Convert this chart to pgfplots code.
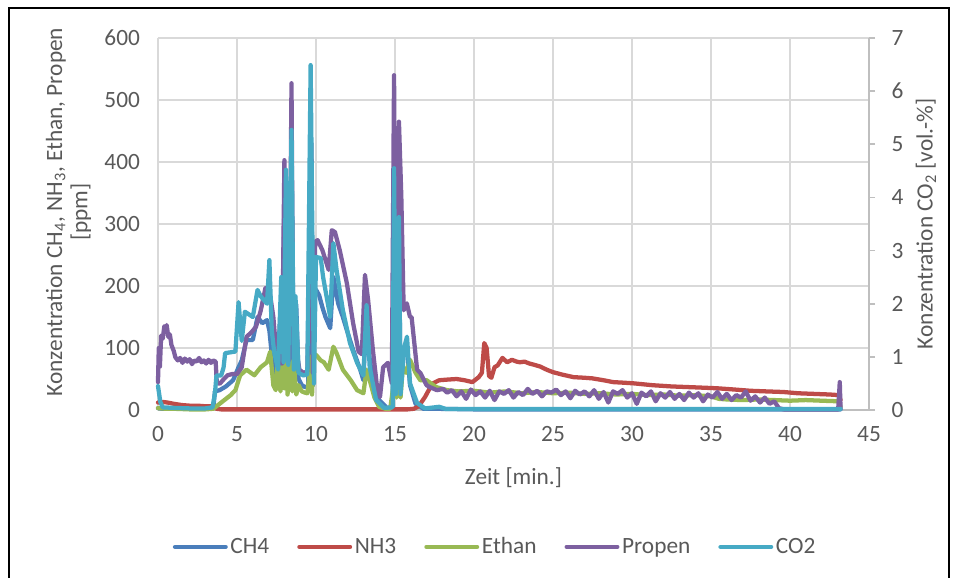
\documentclass[border=0pt]{standalone}
\usepackage{pgfplots}
\pgfplotsset{compat=1.18}
\usepackage{fontspec}
\setmainfont{Carlito}
\definecolor{cCH}{HTML}{4A7EBB}
\definecolor{cNH}{HTML}{BE4B48}
\definecolor{cET}{HTML}{98B954}
\definecolor{cPR}{HTML}{7D60A0}
\definecolor{cCO}{HTML}{46AAC5}
\definecolor{textc}{HTML}{595959}
\definecolor{gridc}{HTML}{D9D9D9}
\definecolor{axisc}{HTML}{BFBFBF}
\pgfplotsset{
  every axis/.append style={scale only axis, width=533.25pt, height=279pt,
    at={(0pt,0pt)}, anchor=south west, clip=false,
    font=\fontsize{17.5}{19}\selectfont,
    /pgf/number format/assume math mode=true,
    tick label style={color=textc},
    label style={color=textc}},
  ser/.style={line width=3.2pt, line join=round, line cap=round, #1},
}
\begin{document}
\begin{tikzpicture}[font=\fontsize{17.5}{19}\selectfont]
\path[use as bounding box] (-118.5pt,-126pt) rectangle (599.25pt,307.5pt);
\begin{axis}[
  xmin=0, xmax=45, ymin=0, ymax=600,
  xtick={0,5,...,45}, ytick={0,100,...,600},
  grid=major, major grid style={color=gridc, line width=1.3pt},
  axis x line*=bottom, axis y line*=left,
  x axis line style={color=axisc, line width=1.3pt, -},
  y axis line style={draw=none},
  major tick length=0pt,
  xticklabel style={yshift=-9pt},
  yticklabel style={xshift=-10pt},
  xlabel={Zeit [min.]},
  xlabel style={at={(axis description cs:0.5,-0.183)}, anchor=center},
  ylabel={Konzentration CH\textsubscript{4}, NH\textsubscript{3}, Ethan, Propen\\{[ppm]}},
  ylabel style={at={(axis description cs:-0.1259,0.532)}, anchor=center, align=center},
  legend style={at={(axis description cs:0.4747,-0.368)}, anchor=center, draw=none, fill=none,
    legend columns=-1, text=textc, font=\fontsize{17.5}{19}\selectfont,
    /tikz/every even column/.append style={column sep=19pt}},
  legend image code/.code={\draw[#1] (0pt,0pt) -- (38pt,0pt);},
]
% CH4
\addplot[ser=cCH] coordinates {(0,3) (0.3,2) (1,2) (2,2) (3,2) (3.5,3) (3.6,30) (3.9,32) (4.3,38) (4.75,48) (5.1,69) (5.3,80) (5.6,113) (6.0,113) (6.3,150) (6.6,140) (6.9,145) (7.05,128) (7.2,90) (7.4,60) (7.6,55) (7.75,150) (7.85,60) (8.0,340) (8.15,70) (8.3,60) (8.45,400) (8.6,60) (8.75,170) (8.9,50) (9.1,40) (9.3,37) (9.5,38) (9.6,200) (9.7,430) (9.8,40) (9.9,190) (10.0,194) (10.2,185) (10.4,166) (10.6,150) (10.9,132) (11.1,215) (11.4,172) (11.7,150) (11.95,129) (12.35,97) (12.8,65) (13.0,48) (13.15,140) (13.3,100) (13.5,65) (13.8,30) (14.0,16) (14.5,3) (14.85,5) (14.95,350) (15.05,30) (15.25,280) (15.35,40) (15.5,90) (15.75,105) (15.95,40) (16.3,10) (16.8,2) (17.5,2) (20,1) (25,1) (30,1) (35,1) (40,1) (43.2,1)};
\addlegendentry{CH4}
% NH3
\addplot[ser=cNH] coordinates {(0,12) (0.3,13) (0.6,12) (1,10) (1.5,8) (2,7) (2.5,7) (3,6) (3.5,6) (3.7,2) (4,1) (6,1) (8,1) (10,1) (12,1) (14,1) (15.8,1) (16.2,2) (16.5,6) (16.9,21) (17.2,35) (17.4,43) (17.8,48) (18.3,49) (18.9,50) (19.4,48) (19.9,45) (20.3,53) (20.5,60) (20.65,108) (20.8,100) (20.95,55) (21.1,52) (21.3,69) (21.5,72) (21.8,84) (22.1,77) (22.4,81) (22.7,78) (22.9,77) (23.2,78) (23.5,75) (23.8,73) (24.2,70) (24.6,65) (25.0,61) (25.6,57) (26.3,53) (27.0,52) (27.5,51) (28.2,48) (28.8,45) (29.5,44) (30.1,43) (31.3,40) (32.5,38) (33.5,37) (34.5,36) (35.4,35) (36.5,33) (37.5,31) (38.5,30) (39.6,29) (40.5,27) (41.5,26) (42.5,25) (43.1,24) (43.2,16)};
\addlegendentry{NH3}
% Ethan
\addplot[ser=cET] coordinates {(0,3) (0.5,2) (1,2) (2,1) (3,1) (3.5,2) (3.8,8) (4.2,16) (4.6,24) (4.9,32) (5.2,56) (5.6,65) (6.1,56) (6.5,69) (6.9,77) (7.1,94) (7.3,40) (7.45,32) (7.6,85) (7.75,30) (7.9,90) (8.0,35) (8.1,85) (8.2,25) (8.35,80) (8.5,30) (8.6,75) (8.75,25) (8.9,40) (9.1,30) (9.3,28) (9.45,27) (9.6,60) (9.65,86) (9.75,25) (9.85,89) (10.0,89) (10.3,80) (10.5,77) (10.8,65) (11.1,102) (11.3,92) (11.7,65) (12.2,48) (12.6,32) (13.0,27) (13.2,65) (13.4,48) (13.7,20) (14.0,5) (14.4,2) (14.7,2) (14.9,40) (15.0,80) (15.1,20) (15.25,60) (15.35,20) (15.5,70) (15.7,60) (15.95,81) (16.3,60) (16.6,48) (17.0,48) (17.6,37) (18.3,32) (19,30) (20,31) (21,28) (22,30) (23,27) (24,29) (25,27) (26,28) (27,26) (28,27) (29,25) (30,26) (31,24) (32,25) (33,23) (34,24) (35,22) (35.5,18) (36,17) (37,16) (38,17) (39,16) (40,15) (41,16) (42,15) (43.1,14) (43.2,5)};
\addlegendentry{Ethan}
% Propen
\addplot[ser=cPR] coordinates {(0,45) (0.05,100) (0.12,70) (0.2,120) (0.3,115) (0.4,135) (0.5,130) (0.55,137) (0.65,118) (0.75,122) (0.85,105) (1.0,95) (1.1,85) (1.25,80) (1.4,84) (1.55,76) (1.7,83) (1.85,78) (2.0,82) (2.15,74) (2.3,80) (2.45,78) (2.6,84) (2.75,77) (2.9,80) (3.05,75) (3.2,81) (3.35,76) (3.5,80) (3.65,78) (3.72,45) (3.9,42) (4.1,48) (4.4,56) (4.7,58) (5.0,58) (5.3,69) (5.6,118) (5.9,125) (6.2,134) (6.5,160) (6.8,197) (7.0,190) (7.1,185) (7.3,150) (7.5,90) (7.6,70) (7.75,160) (7.85,75) (8.0,403) (8.15,90) (8.3,80) (8.45,527) (8.55,120) (8.67,182) (8.8,90) (8.95,65) (9.2,60) (9.45,62) (9.6,250) (9.7,430) (9.8,60) (9.95,271) (10.1,274) (10.4,258) (10.8,226) (11.0,290) (11.2,287) (11.5,258) (11.95,205) (12.35,140) (12.7,94) (12.9,90) (13.1,218) (13.3,177) (13.6,97) (13.85,40) (14.05,21) (14.25,69) (14.55,76) (14.8,43) (14.94,540) (15.05,69) (15.15,300) (15.25,465) (15.4,344) (15.55,161) (15.75,172) (15.95,150) (16.05,150) (16.4,65) (16.6,60) (17.0,40) (17.2,37) (17.65,32) (18.05,34) (18.3,28) (18.6,32) (18.9,22) (19.2,30) (19.5,18) (19.8,33) (20.1,24) (20.4,30) (20.7,20) (21.0,31) (21.3,16) (21.6,30) (21.9,26) (22.2,32) (22.5,20) (22.8,29) (23.1,24) (23.4,34) (23.7,26) (24.0,31) (24.3,22) (24.6,30) (24.9,28) (25.2,33) (25.5,24) (25.8,30) (26.1,19) (26.4,31) (26.7,25) (27.0,30) (27.3,22) (27.6,32) (27.9,18) (28.2,29) (28.5,12) (28.8,30) (29.1,26) (29.4,32) (29.7,20) (30.0,27) (30.3,10) (30.6,28) (30.9,22) (31.2,30) (31.5,14) (31.8,27) (32.1,20) (32.4,29) (32.7,18) (33.0,26) (33.3,16) (33.6,28) (33.9,20) (34.2,27) (34.5,14) (34.8,25) (35.1,20) (35.4,29) (35.7,18) (36.0,26) (36.3,16) (36.6,24) (36.9,20) (37.2,30) (37.5,15) (37.8,22) (38.1,12) (38.4,20) (38.7,10) (39.0,14) (39.3,3) (39.6,1) (40.5,1) (41.5,1) (42.5,1) (43.05,1) (43.15,45) (43.2,2)};
\addlegendentry{Propen}
\addlegendimage{ser=cCO}
\addlegendentry{CO2}
\end{axis}
\begin{axis}[
  xmin=0, xmax=45, ymin=0, ymax=7,
  axis x line=none, axis y line*=right,
  ytick={0,1,...,7},
  y axis line style={color=axisc, line width=1.3pt, -},
  tick style={color=axisc, line width=1.3pt},
  tick align=outside, major tick length=4.5pt,
  yticklabel style={xshift=9pt},
  ylabel={Konzentration CO\textsubscript{2} [vol.-\%]},
  ylabel style={at={(axis description cs:1.08,0.5)}, anchor=center},
]
\addplot[ser=cCO] coordinates {(0,0.45) (0.15,0.15) (0.3,0.05) (1,0.04) (2,0.03) (3,0.03) (3.45,0.05) (3.6,0.3) (3.7,0.65) (4.0,0.65) (4.15,0.8) (4.25,1.07) (4.9,1.1) (5.1,2.03) (5.3,1.3) (5.5,1.85) (6.0,1.75) (6.3,2.26) (6.5,2.14) (6.9,2.0) (7.05,2.82) (7.2,1.5) (7.35,1.1) (7.6,0.76) (7.8,2.5) (7.95,0.9) (8.1,4.52) (8.25,0.85) (8.45,5.27) (8.6,0.76) (8.7,2.14) (8.9,0.7) (9.2,0.65) (9.45,0.67) (9.66,6.49) (9.78,3.0) (9.87,0.5) (10.0,2.88) (10.3,2.86) (10.45,2.5) (10.9,1.75) (11.1,3.14) (11.3,2.64) (11.7,1.88) (12.15,1.26) (12.6,0.89) (13.0,0.65) (13.2,1.97) (13.4,0.8) (13.8,0.19) (14.3,0.04) (14.85,0.05) (14.94,4.55) (15.05,0.3) (15.25,3.63) (15.35,0.3) (15.6,1.2) (15.76,1.38) (15.95,0.5) (16.4,0.13) (16.9,0.03) (17.8,0.06) (18.2,0.02) (20,0.02) (25,0.02) (30,0.02) (35,0.02) (40,0.02) (43.2,0.02)};
\end{axis}
\draw[black, line width=1.1pt] (-111.75pt,-126pt) -- (-111.75pt,301.5pt) -- (593.25pt,301.5pt) -- (593.25pt,-126pt);
\end{tikzpicture}
\end{document}
